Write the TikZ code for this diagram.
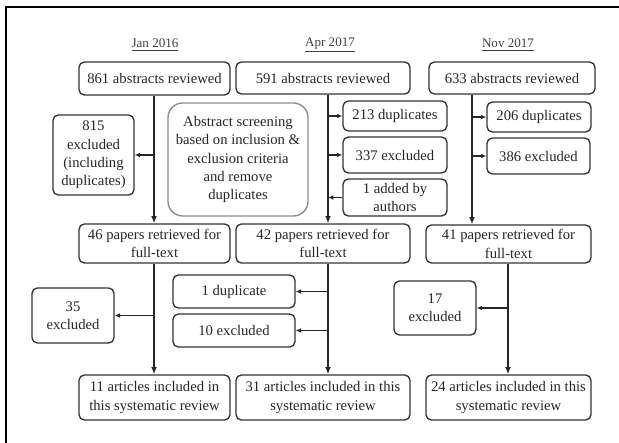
\documentclass[tikz,border=0pt]{standalone}
\usepackage{fontspec}
\setmainfont{Liberation Serif}
\usetikzlibrary{arrows.meta}

\begin{document}
\begin{tikzpicture}[x=0.75pt, y=-0.75pt,
    box/.style={draw=black!80, line width=1pt, rounded corners=4pt, align=center,
        inner sep=0pt, text=black!85, font=\fontsize{11}{13.8}\selectfont},
    note/.style={box, draw=black!45, rounded corners=11pt},
    sz/.style 2 args={minimum width=#1*0.75pt, minimum height=#2*0.75pt},
    date/.style={text=black!75, font=\fontsize{9.8}{11}\selectfont},
    arr/.style={draw=black!85, line width=1.1pt, -{Latex[length=5.5pt, width=4.5pt]}},
    sarr/.style={draw=black!85, line width=1.1pt, -{Latex[length=4pt, width=3.5pt]}}]
    \useasboundingbox (0,0) rectangle (619,443);
    % frame
    \draw[line width=0.9pt] (619,7) -- (6,7) -- (6,443);

    % dates
    \node[date] (djan) at (155,45) {\underline{Jan 2016}};
    \node[date] (dapr) at (330,45) {\underline{Apr 2017}};
    \node[date] (dnov) at (508,45) {\underline{Nov 2017}};

    % abstracts reviewed
    \node[box, sz={151}{33}] (jan1) at (154.5,78.5) {861 abstracts reviewed};
    \node[box, sz={174}{32}] (apr1) at (323,78) {591 abstracts reviewed};
    \node[box, sz={166}{32}] (nov1) at (512,78) {633 abstracts reviewed};

    % screening stage
    \node[box, sz={81}{80}] (janex) at (93.5,155) {815\\excluded\\(including\\duplicates)};
    \node[note, sz={140}{113}] (screen) at (238,159.5) {Abstract screening\\based on inclusion \&\\exclusion criteria\\and remove\\duplicates};
    \node[box, sz={104}{30}] (aprdup) at (395,116) {213 duplicates};
    \node[box, sz={104}{36}] (aprex) at (395,155) {337 excluded};
    \node[box, sz={104}{37}] (apradd) at (395,197.5) {1 added by\\authors};
    \node[box, sz={104}{30}] (novdup) at (539,117) {206 duplicates};
    \node[box, sz={103}{36}] (novex) at (538.5,156) {386 excluded};

    % full-text
    \node[box, sz={151}{39}] (jan2) at (154.5,243.5) {46 papers retrieved for\\full-text};
    \node[box, sz={174}{39}] (apr2) at (323,243.5) {42 papers retrieved for\\full-text};
    \node[box, sz={165}{38}] (nov2) at (508.5,244) {41 papers retrieved for\\full-text};

    \node[box, sz={82}{55}] (jan35) at (73,315.5) {35\\excluded};
    \node[box, sz={122}{33}] (aprdup2) at (234,291.5) {1 duplicate};
    \node[box, sz={122}{33}] (aprex2) at (234,330.5) {10 excluded};
    \node[box, sz={82}{54}] (nov17) at (435,308) {17\\excluded};

    % included
    \node[box, sz={151}{45}] (jan3) at (154.5,397.5) {11 articles included in\\this systematic review};
    \node[box, sz={174}{45}] (apr3) at (323,397.5) {31 articles included in this\\systematic review};
    \node[box, sz={165}{45}] (nov3) at (508.5,397.5) {24 articles included in this\\systematic review};

    % trunk lines
    \coordinate (janx) at (154,0);
    \coordinate (aprx) at (328,0);
    \coordinate (novx) at (472,0);
    \coordinate (novy) at (508,0);

    \draw[arr] (jan1.south -| janx) -- (jan2.north -| janx);
    \draw[arr] (apr1.south -| aprx) -- (apr2.north -| aprx);
    \draw[arr] (nov1.south -| novx) -- (nov2.north -| novx);
    \draw[arr] (jan2.south -| janx) -- (jan3.north -| janx);
    \draw[arr] (apr2.south -| aprx) -- (apr3.north -| aprx);
    \draw[arr] (nov2.south -| novy) -- (nov3.north -| novy);

    % branches
    \draw[sarr] (janex.east -| janx) -- (janex.east);
    \draw[sarr] (aprdup.west -| aprx) -- (aprdup.west);
    \draw[sarr] (aprex.west -| aprx) -- (aprex.west);
    \draw[sarr] (apradd.west) -- (apradd.west -| aprx);
    \draw[sarr] (novdup.west -| novx) -- (novdup.west);
    \draw[sarr] (novex.west -| novx) -- (novex.west);
    \draw[sarr] (jan35.east -| janx) -- (jan35.east);
    \draw[sarr] (aprdup2.east -| aprx) -- (aprdup2.east);
    \draw[sarr] (aprex2.east -| aprx) -- (aprex2.east);
    \draw[sarr] (nov17.east -| novy) -- (nov17.east);
\end{tikzpicture}
\end{document}
